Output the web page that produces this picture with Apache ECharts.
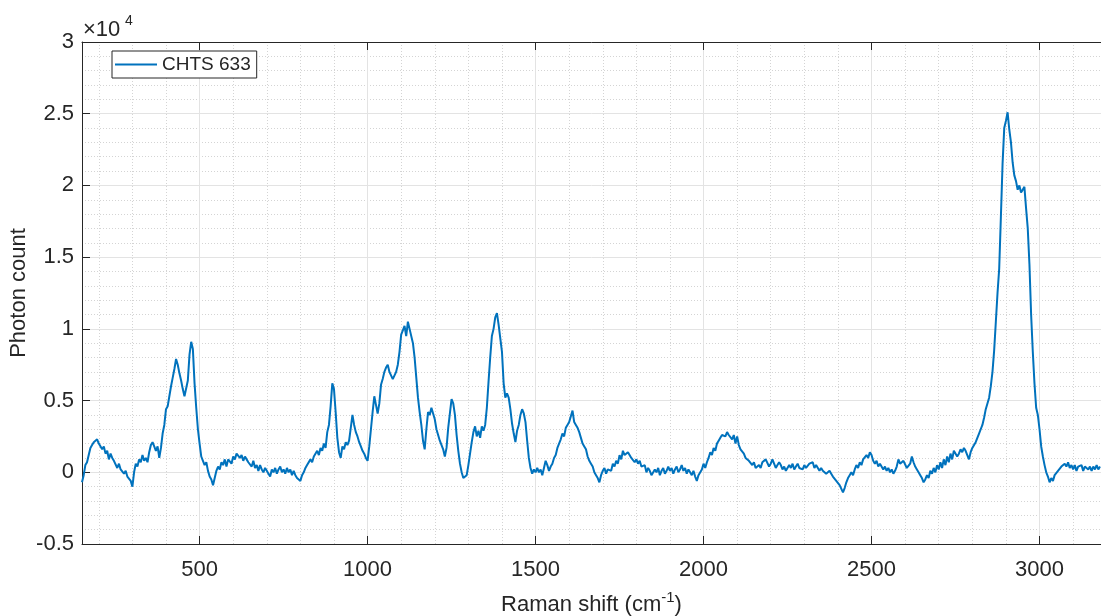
<!DOCTYPE html>
<html><head><meta charset="utf-8">
<script src="https://cdn.jsdelivr.net/npm/echarts@6/dist/echarts.min.js"></script>
<style>html,body{margin:0;padding:0;background:#fff}#chart{width:1101px;height:616px}</style>
</head><body><div id="chart"></div>
<script>
// Raman shift grid (cm^-1): first value and sampling step
const ramanStart = 150;
const ramanStep = 5;
// Photon count in units of 1e4 (150 ... 3180 cm^-1, one row = 100 cm^-1)
const photonCountE4 = [
 -0.07,-0.02,0.05,0.07,0.12,0.17,0.19,0.21,0.22,0.23,0.20,0.21,0.16,0.18,0.13,0.15,0.09,0.13,0.10,0.08,
 0.07,0.03,0.06,0.02,0.03,-0.01,0.01,-0.03,-0.02,-0.06,-0.10,0.00,0.06,0.04,0.09,0.07,0.12,0.08,0.10,0.07,
 0.14,0.19,0.21,0.18,0.15,0.18,0.10,0.17,0.27,0.33,0.44,0.46,0.53,0.60,0.66,0.72,0.79,0.75,0.69,0.64,
 0.58,0.53,0.54,0.64,0.82,0.91,0.86,0.62,0.45,0.30,0.20,0.11,0.08,0.05,0.07,0.01,-0.03,-0.05,-0.09,-0.04,
 0.01,0.04,0.02,0.07,0.05,0.09,0.04,0.09,0.10,0.06,0.11,0.09,0.13,0.12,0.10,0.12,0.08,0.11,0.09,0.07,
 0.07,0.04,0.08,0.03,0.05,0.01,0.05,0.02,0.00,0.03,0.01,-0.01,-0.03,0.02,0.00,0.03,-0.01,0.02,0.04,0.00,
 0.02,-0.01,0.03,0.00,0.02,-0.02,0.01,-0.02,-0.04,-0.03,-0.06,-0.02,0.00,0.03,0.05,0.04,0.09,0.07,0.11,0.10,
 0.15,0.12,0.17,0.15,0.20,0.17,0.28,0.33,0.46,0.62,0.58,0.42,0.24,0.14,0.10,0.18,0.16,0.21,0.19,0.22,
 0.31,0.40,0.33,0.28,0.25,0.21,0.18,0.15,0.13,0.10,0.08,0.18,0.30,0.42,0.53,0.47,0.41,0.48,0.61,0.65,
 0.70,0.73,0.75,0.70,0.71,0.65,0.66,0.70,0.75,0.84,0.96,0.99,1.02,0.95,1.05,1.00,1.01,0.90,0.80,0.66,
 0.52,0.42,0.33,0.22,0.16,0.30,0.42,0.40,0.45,0.44,0.37,0.30,0.26,0.22,0.21,0.16,0.11,0.17,0.31,0.41,
 0.51,0.48,0.40,0.26,0.15,0.06,0.00,-0.04,-0.05,-0.02,0.05,0.13,0.21,0.28,0.32,0.25,0.29,0.24,0.32,0.29,
 0.33,0.45,0.63,0.80,0.95,1.00,1.08,1.11,1.03,1.02,0.84,0.62,0.52,0.55,0.52,0.44,0.34,0.27,0.21,0.29,
 0.33,0.40,0.44,0.41,0.35,0.22,0.10,0.03,-0.01,0.02,0.00,0.03,0.00,0.02,-0.02,0.03,0.08,0.05,0.01,0.04,
 0.06,0.10,0.12,0.17,0.20,0.23,0.27,0.25,0.31,0.33,0.35,0.34,0.43,0.35,0.33,0.31,0.28,0.24,0.20,0.18,
 0.16,0.11,0.08,0.06,0.04,0.00,-0.02,-0.04,-0.07,-0.02,0.01,0.03,-0.01,0.02,0.03,0.01,0.06,0.04,0.08,0.06,
 0.12,0.09,0.15,0.12,0.11,0.14,0.13,0.10,0.11,0.07,0.09,0.06,0.08,0.04,0.03,0.05,0.00,0.03,0.01,-0.02,
 -0.03,0.02,0.00,0.03,-0.02,0.01,0.03,-0.01,0.01,0.04,0.01,0.03,-0.01,0.02,0.04,0.00,0.02,0.05,0.01,0.03,
 -0.01,0.02,0.00,-0.02,0.01,-0.03,-0.06,-0.02,-0.03,0.02,0.06,0.03,0.07,0.10,0.14,0.12,0.17,0.15,0.20,0.22,
 0.24,0.26,0.27,0.25,0.28,0.26,0.27,0.23,0.26,0.20,0.25,0.19,0.16,0.15,0.13,0.10,0.11,0.08,0.09,0.05,
 0.07,0.03,0.02,0.05,0.03,0.07,0.06,0.09,0.08,0.04,0.06,0.09,0.06,0.03,0.05,0.07,0.05,0.02,0.04,0.01,
 0.02,0.05,0.03,0.06,0.02,0.04,0.06,0.03,0.04,0.02,0.05,0.03,0.02,0.06,0.05,0.07,0.03,0.05,0.04,0.01,
 0.03,0.01,0.02,-0.01,-0.02,0.01,-0.01,-0.03,-0.04,-0.06,-0.05,-0.09,-0.10,-0.14,-0.11,-0.07,-0.04,-0.02,0.00,-0.02,
 0.02,0.05,0.03,0.07,0.05,0.09,0.10,0.12,0.10,0.14,0.12,0.08,0.06,0.08,0.04,0.06,0.05,0.02,0.04,0.01,
 0.03,0.00,0.02,-0.01,0.01,0.04,0.09,0.06,0.05,0.08,0.07,0.03,0.02,0.06,0.11,0.07,0.04,0.02,0.00,-0.02,
 -0.04,-0.07,-0.05,-0.02,-0.04,0.01,-0.01,0.03,0.00,0.05,0.02,0.07,0.03,0.09,0.05,0.11,0.07,0.13,0.09,0.15,
 0.14,0.11,0.13,0.16,0.14,0.17,0.15,0.12,0.09,0.14,0.17,0.18,0.21,0.24,0.27,0.30,0.33,0.38,0.44,0.48,
 0.52,0.60,0.70,0.85,1.05,1.25,1.42,1.78,2.15,2.40,2.45,2.51,2.39,2.30,2.16,2.07,2.03,1.97,2.00,1.95,
 1.97,1.99,1.84,1.70,1.45,1.10,0.84,0.62,0.45,0.40,0.30,0.18,0.11,0.05,0.00,-0.03,-0.07,-0.04,-0.06,-0.02,
 -0.03,0.01,0.02,0.04,0.03,0.06,0.04,0.07,0.03,0.05,0.02,0.05,0.01,0.04,0.03,0.05,0.01,0.04,0.05,0.02,
 0.04,0.01,0.04,0.02,0.05,0.02,0.04
];
const xMajorTicks = [500, 1000, 1500, 2000, 2500, 3000];
const xMinorTicks = [200, 300, 400, 600, 700, 800, 900, 1100, 1200, 1300, 1400,
  1600, 1700, 1800, 1900, 2100, 2200, 2300, 2400, 2600, 2700, 2800, 2900, 3100];
const seriesName = 'CHTS 633';
const xRange = [150, 3183];
const yRange = [-0.5, 3];
const yStep = 0.5;

const FONT = '"Liberation Sans", Arial, Helvetica, sans-serif';
const TXT = '#262626';
const AXIS = '#262626';

const seriesData = photonCountE4.map((v, i) => [ramanStart + i * ramanStep, v]);

const chart = echarts.init(document.getElementById('chart'), null, { renderer: 'canvas' });
chart.setOption({
  animation: false,
  backgroundColor: '#ffffff',
  textStyle: { fontFamily: FONT },
  grid: { left: 82, right: 0, top: 42, bottom: 72, containLabel: false, outerBoundsMode: 'none' },
  legend: {
    left: 112, top: 51,
    data: [{ name: seriesName, icon: 'rect' }],
    itemWidth: 42, itemHeight: 2,
    padding: [4, 6, 4, 3],
    borderColor: AXIS, borderWidth: 1, borderRadius: 0,
    backgroundColor: '#ffffff',
    textStyle: { fontSize: 19, color: TXT, fontFamily: FONT }
  },
  graphic: [
    { type: 'text', left: 83, top: 19, z: 10, style: { text: '×10', fill: TXT, font: '22px ' + FONT } },
    { type: 'text', left: 125, top: 14, z: 10, style: { text: '4', fill: TXT, font: '14px ' + FONT } }
  ],
  xAxis: [
    {
      type: 'value', position: 'bottom', min: xRange[0], max: xRange[1],
      axisLine: { show: true, onZero: false, lineStyle: { color: AXIS, width: 1 } },
      axisTick: { show: true, inside: true, length: 8, customValues: xMajorTicks, lineStyle: { color: AXIS } },
      axisLabel: { show: true, customValues: xMajorTicks, fontSize: 22, color: TXT, margin: 15, fontFamily: FONT,
        formatter: (v) => String(v) },
      splitLine: { show: true, lineStyle: { color: '#e3e3e3', width: 1 } },
      name: '{t|Raman shift (cm}{s|-1}{t|)}',
      nameLocation: 'middle', nameGap: 46,
      nameTextStyle: {
        color: TXT, fontFamily: FONT,
        rich: {
          t: { fontSize: 22, lineHeight: 30, color: TXT, fontFamily: FONT },
          s: { fontSize: 15, lineHeight: 16, verticalAlign: 'top', color: TXT, fontFamily: FONT }
        }
      }
    },
    {
      type: 'value', position: 'top', min: xRange[0], max: xRange[1],
      axisLine: { show: true, onZero: false, lineStyle: { color: AXIS, width: 1 } },
      axisTick: { show: true, inside: true, length: 8, customValues: xMajorTicks, lineStyle: { color: AXIS } },
      axisLabel: { show: false, customValues: xMajorTicks },
      splitLine: { show: false }
    },
    {
      type: 'value', position: 'bottom', min: xRange[0], max: xRange[1],
      axisLine: { show: false },
      axisTick: { show: true, length: 0, customValues: xMinorTicks, lineStyle: { opacity: 0 } },
      axisLabel: { show: false, customValues: xMinorTicks },
      splitLine: { show: true, lineStyle: { color: '#d4d4d4', width: 1, type: [1, 2] } }
    }
  ],
  yAxis: [{
    type: 'value', position: 'left', min: yRange[0], max: yRange[1], interval: yStep,
    axisLine: { show: true, onZero: false, lineStyle: { color: AXIS, width: 1 } },
    axisTick: { show: true, inside: true, length: 8, lineStyle: { color: AXIS } },
    axisLabel: { show: true, fontSize: 22, color: TXT, margin: 8, fontFamily: FONT },
    splitLine: { show: true, lineStyle: { color: '#e3e3e3', width: 1 } },
    minorTick: { show: false, splitNumber: 5 },
    minorSplitLine: { show: true, lineStyle: { color: '#d4d4d4', width: 1, type: [1, 2] } },
    name: 'Photon count', nameLocation: 'middle', nameGap: 52, nameMoveOverlap: false,
    nameTextStyle: { fontSize: 22, color: TXT, fontFamily: FONT }
  }],
  series: [{
    name: seriesName, type: 'line', xAxisIndex: 0, yAxisIndex: 0,
    data: seriesData, symbol: 'none', showSymbol: false,
    lineStyle: { color: '#0072BD', width: 2 },
    itemStyle: { color: '#0072BD' },
    z: 5, clip: true
  }]
});
</script></body></html>
